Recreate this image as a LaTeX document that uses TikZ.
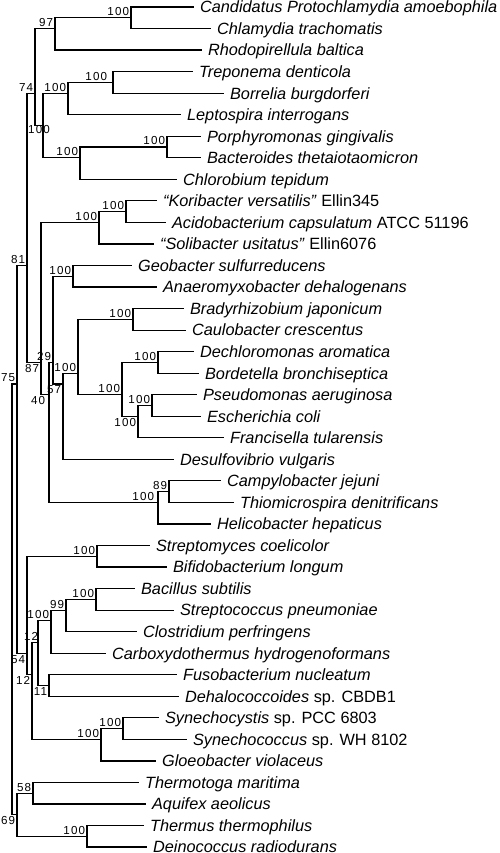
\documentclass[tikz,border=0pt]{standalone}
\usepackage{fontspec}
\setmainfont{Liberation Sans}
\newfontfamily\supfamily[LetterSpace=10]{Liberation Sans}
\newcommand\leaffont{\fontsize{16.3pt}{19pt}\selectfont\itshape}
\newcommand\supfont{\supfamily\fontsize{11.6pt}{13pt}\selectfont}
% y of a node spanning leaves #1..#2
\newcommand\rowy[2]{7+(#1+#2-2)*10.77}

\begin{document}
\begin{tikzpicture}[x=1pt, y=-1pt, line width=1.2pt,
    leaf/.style={anchor=west, inner xsep=5.5pt, inner ysep=0pt, text height=11.7pt, text depth=0pt, font=\leaffont},
    sup/.style={inner sep=1.3pt, font=\supfont}]
    \useasboundingbox (0,0) rectangle (500,853);

    % leaves
    \foreach \i/\ex/\txt in {
      1/194/Candidatus Protochlamydia amoebophila,
      2/211/Chlamydia trachomatis,
      3/202/Rhodopirellula baltica,
      4/193/Treponema denticola,
      5/224/Borrelia burgdorferi,
      6/181/Leptospira interrogans,
      7/201/Porphyromonas gingivalis,
      8/201/Bacteroides thetaiotaomicron,
      9/177/Chlorobium tepidum,
      10/157/“Koribacter versatilis” \textup{Ellin345},
      11/166/Acidobacterium capsulatum \textup{ATCC 51196},
      12/154/“Solibacter usitatus” \textup{Ellin6076},
      13/132/Geobacter sulfurreducens,
      14/157/Anaeromyxobacter dehalogenans,
      15/184/Bradyrhizobium japonicum,
      16/186/Caulobacter crescentus,
      17/194/Dechloromonas aromatica,
      18/199/Bordetella bronchiseptica,
      19/197/Pseudomonas aeruginosa,
      20/201/Escherichia coli,
      21/224/Francisella tularensis,
      22/174/Desulfovibrio vulgaris,
      23/221/Campylobacter jejuni,
      24/234/Thiomicrospira denitrificans,
      25/211/Helicobacter hepaticus,
      26/150/Streptomyces coelicolor,
      27/167/Bifidobacterium longum,
      28/135/Bacillus subtilis,
      29/174/Streptococcus pneumoniae,
      30/137/Clostridium perfringens,
      31/106/Carboxydothermus hydrogenoformans,
      32/177/Fusobacterium nucleatum,
      33/179/Dehalococcoides \textup{sp. CBDB1},
      34/159/Synechocystis \textup{sp. PCC 6803},
      35/187/Synechococcus \textup{sp. WH 8102},
      36/156/Gloeobacter violaceus,
      37/139/Thermotoga maritima,
      38/146/Aquifex aeolicus,
      39/144/Thermus thermophilus,
      40/147/Deinococcus radiodurans}
      {
      \pgfmathsetmacro\ly{7+(\i-1)*21.54}
      \node[leaf] (l\i) at (\ex,\ly) {\txt};
      }

    % inner nodes with their support values
    \coordinate[label={[sup]above left:100}] (n1) at (131,{\rowy{1}{2}});
    \coordinate[label={[sup]above left:97}] (n2) at (55,{\rowy{1}{3}});
    \coordinate[label={[sup,xshift=-4pt]above left:100}] (n3) at (113,{\rowy{4}{5}});
    \coordinate[label={[sup]above left:100}] (n4) at (68,{\rowy{4}{6}});
    \coordinate[label={[sup]above left:100}] (n5) at (167,{\rowy{7}{8}});
    \coordinate[label={[sup]above left:100}] (n6) at (80,{\rowy{7}{9}});
    \coordinate (n7) at (43,{\rowy{4}{9}});
    \node[sup] (s7) at (39,130) {100};
    \coordinate[label={[sup]above left:74}] (n8) at (35,{\rowy{1}{9}});
    \coordinate[label={[sup]above left:100}] (n9) at (126,{\rowy{10}{11}});
    \coordinate[label={[sup]above left:100}] (n10) at (99,{\rowy{10}{12}});
    \coordinate[label={[sup]above left:100}] (n11) at (73,{\rowy{13}{14}});
    \coordinate[label={[sup]above left:100}] (n12) at (133,{\rowy{15}{16}});
    \coordinate[label={[sup]above left:100}] (n13) at (158,{\rowy{17}{18}});
    \coordinate[label={[sup]above left:100}] (n14) at (152,{\rowy{19}{20}});
    \coordinate[label={[sup]below left:100}] (n15) at (138,{\rowy{19}{21}});
    \coordinate[label={[sup]above left:100}] (n16) at (122,{\rowy{17}{21}});
    \coordinate[label={[sup]above left:100}] (n17) at (78,{\rowy{15}{21}});
    \coordinate[label={[sup]below left:57}] (n18) at (63,{\rowy{15}{22}});
    \coordinate[label={[sup]above left:29}] (n19) at (53,{\rowy{13}{22}});
    \coordinate[label={[sup]above left:89}] (n20) at (169,{\rowy{23}{24}});
    \coordinate[label={[sup,xshift=-2pt]above left:100}] (n21) at (158,{\rowy{23}{25}});
    \coordinate[label={[sup,xshift=-2pt]below left:40}] (n22) at (49,{\rowy{13}{25}});
    \coordinate[label={[sup]below left:87}] (n23) at (41,{\rowy{10}{25}});
    \coordinate[label={[sup]above left:81}] (n24) at (27,{\rowy{1}{25}});
    \coordinate[label={[sup]above left:100}] (n25) at (97,{\rowy{26}{27}});
    \coordinate[label={[sup]above left:100}] (n26) at (96,{\rowy{28}{29}});
    \coordinate[label={[sup]above left:99}] (n27) at (66,{\rowy{28}{30}});
    \coordinate[label={[sup]above left:100}] (n28) at (51,{\rowy{28}{31}});
    \coordinate[label={[sup]below left:11}] (n29) at (49,{\rowy{32}{33}});
    \coordinate[label={[sup,xshift=2pt]above left:12}] (n30) at (38,{\rowy{28}{33}});
    \coordinate[label={[sup]above left:100}] (n31) at (123,{\rowy{34}{35}});
    \coordinate[label={[sup]above left:100}] (n32) at (101,{\rowy{34}{36}});
    \coordinate[label={[sup]below left:12}] (n33) at (32,{\rowy{28}{36}});
    \coordinate[label={[sup]below left:54}] (n34) at (27,{\rowy{26}{36}});
    \coordinate[label={[sup]above left:75}] (n35) at (17,{\rowy{1}{36}});
    \coordinate[label={[sup]above left:58}] (n36) at (33,{\rowy{37}{38}});
    \coordinate[label={[sup]above left:100}] (n37) at (87,{\rowy{39}{40}});
    \coordinate[label={[sup]below left:69}] (n38) at (17,{\rowy{37}{40}});
    \coordinate (root) at (12,{\rowy{1}{40}});

    % branches
    \foreach \p/\c in {n1/l1.west, n1/l2.west, n2/n1, n2/l3.west,
      n3/l4.west, n3/l5.west, n4/n3, n4/l6.west,
      n5/l7.west, n5/l8.west, n6/n5, n6/l9.west,
      n7/n4, n7/n6, n8/n2, n8/n7,
      n9/l10.west, n9/l11.west, n10/n9, n10/l12.west,
      n11/l13.west, n11/l14.west, n12/l15.west, n12/l16.west,
      n13/l17.west, n13/l18.west, n14/l19.west, n14/l20.west,
      n15/n14, n15/l21.west, n16/n13, n16/n15, n17/n12, n17/n16,
      n18/n17, n18/l22.west, n19/n11, n19/n18,
      n20/l23.west, n20/l24.west, n21/n20, n21/l25.west,
      n22/n19, n22/n21, n23/n10, n23/n22, n24/n8, n24/n23,
      n25/l26.west, n25/l27.west, n26/l28.west, n26/l29.west,
      n27/n26, n27/l30.west, n28/n27, n28/l31.west,
      n29/l32.west, n29/l33.west, n30/n28, n30/n29,
      n31/l34.west, n31/l35.west, n32/n31, n32/l36.west,
      n33/n30, n33/n32, n34/n25, n34/n33, n35/n24, n35/n34,
      n36/l37.west, n36/l38.west, n37/l39.west, n37/l40.west,
      n38/n36, n38/n37, root/n35, root/n38}
      \draw (\p) |- (\c);
\end{tikzpicture}
\end{document}
